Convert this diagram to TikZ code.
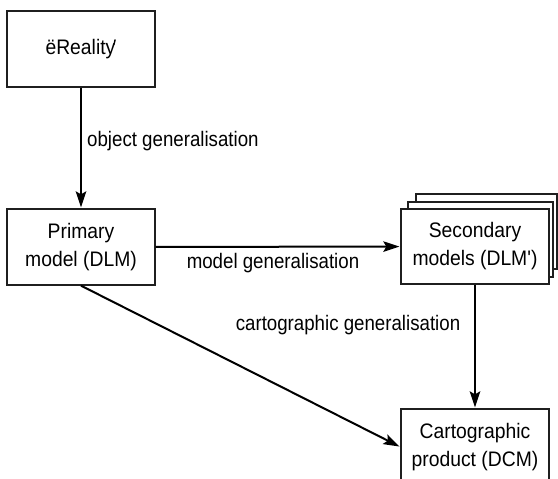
\documentclass[tikz,border=0pt]{standalone}
\usepackage{fontspec}
\setmainfont{Liberation Sans}[FakeStretch=0.92, Ligatures=TeXOff]
\newfontfamily\steplabelfont{Liberation Sans}[FakeStretch=0.89, Ligatures=TeXOff]
\usetikzlibrary{arrows.meta}

\tikzset{
  box/.style={draw=black!88, line width=1.3pt, fill=white, rectangle,
    minimum width=148pt, minimum height=76pt, inner sep=0pt,
    align=center, font=\fontsize{21}{28}\selectfont},
  backbox/.style={draw=black!88, line width=1.3pt, fill=white, rectangle,
    minimum height=75pt, inner sep=0pt},
  flow/.style={line width=2pt, draw=black,
    -{Stealth[length=16pt, width=10.5pt, inset=3pt]}, shorten >=1pt},
  tag/.style={font=\steplabelfont\fontsize{21}{28}\selectfont, inner sep=0pt}
}

\begin{document}
\begin{tikzpicture}[x=1pt, y=-1pt]
  \useasboundingbox (0,0) rectangle (558,479);
  \clip (0,0) rectangle (558,479);

  % stacked secondary models: two sheets behind the front one
  \node[backbox, minimum width=141pt] (sheetc) at (486.5,231.5) {};
  \node[backbox, minimum width=145pt] (sheetb) at (480.5,239.5) {};

  % the four model boxes
  \node[box] (reality) at (81,49) {ëReality\kern-2.5pt′};
  \node[box] (primary) at (81,247) {Primary\\model (DLM)};
  \node[box, minimum height=75pt] (secondary) at (475,246.5) {Secondary\\models (DLM')};
  \node[box] (product) at (475,447) {Cartographic\\product (DCM)};

  % generalisation steps
  \draw[flow] (reality) -- (primary);
  \draw[flow] (primary) -- (secondary);
  \draw[flow] (secondary) -- (product);
  \draw[flow] (primary.south) -- (product.west);

  % step labels
  \node[tag, anchor=base west] (objgen) at (87,146) {object generalisation};
  \node[tag, anchor=base] (modgen) at (273,268) {model generalisation};
  \node[tag, anchor=base] (cartgen) at (348,330) {cartographic generalisation};
\end{tikzpicture}
\end{document}
